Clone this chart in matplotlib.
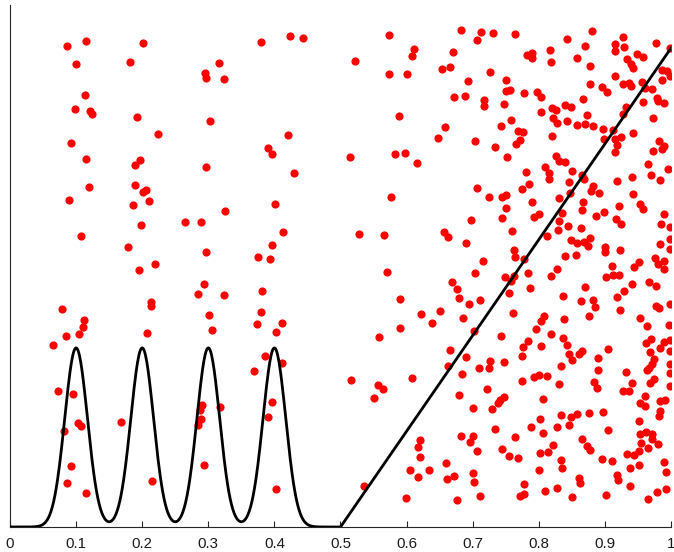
import numpy as np
import matplotlib
matplotlib.use("Agg")
import matplotlib.pyplot as plt

# sample points, left part (clustered around the four bumps)
x_left = [0.086, 0.115, 0.201, 0.100, 0.182, 0.380, 0.423, 0.443, 0.316, 0.295,
          0.296, 0.323, 0.113, 0.098, 0.121, 0.124, 0.192, 0.303, 0.224, 0.092,
          0.421, 0.390, 0.396, 0.115, 0.189, 0.197, 0.297, 0.429, 0.120, 0.189,
          0.206, 0.201, 0.089, 0.186, 0.211, 0.325, 0.401, 0.264, 0.289, 0.198,
          0.413, 0.107, 0.178, 0.296, 0.397, 0.375, 0.393, 0.219, 0.195, 0.293,
          0.284, 0.324, 0.381, 0.214, 0.214, 0.079, 0.112, 0.110, 0.084, 0.104,
          0.065, 0.208, 0.301, 0.305, 0.379, 0.374, 0.411, 0.402, 0.386, 0.411,
          0.073, 0.096, 0.082, 0.103, 0.107, 0.093, 0.086, 0.115, 0.168, 0.215,
          0.287, 0.290, 0.289, 0.284, 0.318, 0.294, 0.369, 0.396, 0.391, 0.402]
y_left = [1.005, 1.015, 1.010, 0.966, 0.970, 1.013, 1.025, 1.022, 0.968, 0.949,
          0.938, 0.936, 0.903, 0.872, 0.869, 0.862, 0.856, 0.848, 0.820, 0.801,
          0.818, 0.792, 0.779, 0.769, 0.755, 0.766, 0.752, 0.740, 0.711, 0.714,
          0.704, 0.700, 0.683, 0.672, 0.681, 0.660, 0.675, 0.636, 0.637, 0.630,
          0.616, 0.607, 0.585, 0.575, 0.589, 0.563, 0.560, 0.550, 0.536, 0.508,
          0.486, 0.485, 0.492, 0.470, 0.461, 0.455, 0.432, 0.418, 0.399, 0.402,
          0.380, 0.406, 0.443, 0.412, 0.449, 0.424, 0.427, 0.408, 0.357, 0.342,
          0.284, 0.278, 0.201, 0.217, 0.210, 0.127, 0.091, 0.072, 0.219, 0.097,
          0.244, 0.254, 0.225, 0.214, 0.250, 0.130, 0.325, 0.260, 0.230, 0.079]

# sample points, right part (density rising towards x = 1)
x_right = [0.573, 0.683, 0.712, 0.731, 0.706, 0.611, 0.608, 0.670, 0.522, 0.574,
           0.600, 0.653, 0.665, 0.726, 0.693, 0.750, 0.750, 0.756, 0.671, 0.688,
           0.717, 0.717, 0.748, 0.589, 0.658, 0.648, 0.743, 0.703, 0.733,
           0.764, 0.842, 0.881, 0.928, 0.915, 0.929, 0.916, 0.978, 0.998, 0.782,
           0.789, 0.790, 0.817, 0.819, 0.870, 0.858, 0.877, 0.949, 0.957, 0.934,
           0.940, 0.943, 0.987, 0.994, 0.998, 0.987, 0.915, 0.777, 0.797, 0.804,
           0.877, 0.896, 0.903, 0.927, 0.936, 0.940, 0.956, 0.960, 0.971, 0.979,
           0.980, 0.990, 0.958, 0.867, 0.840, 0.849, 0.820, 0.826, 0.803, 0.932,
           0.927, 0.873, 0.758, 0.822, 0.828, 0.842, 0.858, 0.870, 0.882, 0.897,
           0.912, 0.973, 0.768, 0.776, 0.772, 0.765, 0.820, 0.898, 0.924, 0.915,
           0.942, 0.918, 0.982, 0.990, 0.973, 0.986,
           0.515, 0.583, 0.598, 0.616, 0.752, 0.577, 0.707, 0.725, 0.744, 0.750,
           0.750, 0.698, 0.745, 0.528, 0.566, 0.657, 0.662, 0.690, 0.715, 0.704,
           0.570, 0.749,
           0.915, 0.826, 0.830, 0.840, 0.810, 0.815, 0.816, 0.781, 0.850, 0.865,
           0.868, 0.845, 0.785, 0.774, 0.847, 0.882, 0.879, 0.891, 0.918, 0.941,
           0.965, 0.995, 0.969, 0.984, 0.942, 0.830, 0.867, 0.865, 0.789, 0.835,
           0.800, 0.793, 0.886, 0.898, 0.921, 0.953, 0.958, 0.917, 0.925, 0.990,
           0.985, 0.998, 0.830, 0.829, 0.844, 0.864, 0.759, 0.812, 0.877, 0.869,
           0.858, 0.848, 0.875, 0.998, 0.983, 0.998, 0.900, 0.900, 0.923, 0.762,
           0.764, 0.777, 0.839, 0.856, 0.976, 0.989, 0.981, 0.989, 0.952, 0.944,
           0.910, 0.827, 0.784, 0.763, 0.901, 0.912, 0.922, 0.818,
           0.668, 0.677, 0.679, 0.694, 0.711, 0.590, 0.622, 0.651, 0.638, 0.686,
           0.590, 0.558, 0.702, 0.743, 0.665, 0.690, 0.663, 0.726, 0.724, 0.710,
           0.747, 0.684, 0.516, 0.557, 0.565, 0.608, 0.551, 0.680, 0.721, 0.747,
           0.741, 0.738,
           0.758, 0.755, 0.786, 0.836, 0.870, 0.864, 0.882, 0.885, 0.876, 0.941,
           0.929, 0.918, 0.923, 0.967, 0.978, 0.978, 0.982, 0.998, 0.761, 0.953,
           0.963, 0.997, 0.808, 0.804, 0.796, 0.838, 0.818, 0.836, 0.842, 0.783,
           0.776, 0.804, 0.774, 0.845, 0.850, 0.861, 0.866, 0.904, 0.890, 0.969,
           0.962, 0.990, 0.998, 0.984, 0.968, 0.974, 0.971, 0.967, 0.963, 0.998,
           0.998, 0.998, 0.834, 0.890, 0.932, 0.792, 0.800, 0.813, 0.775, 0.831,
           0.884, 0.888, 0.974, 0.968, 0.941, 0.928, 0.936, 0.998, 0.961, 0.806,
           0.984, 0.991,
           0.701, 0.729, 0.734, 0.682, 0.700, 0.696, 0.707, 0.745, 0.621, 0.618,
           0.620, 0.660, 0.605, 0.634, 0.617, 0.661, 0.672, 0.701, 0.702, 0.536,
           0.599, 0.676, 0.711,
           0.953, 0.960, 0.983, 0.982, 0.802, 0.833, 0.848, 0.845, 0.858, 0.876,
           0.897, 0.788, 0.806, 0.828, 0.905, 0.951, 0.953, 0.962, 0.971, 0.972,
           0.981, 0.965, 0.955, 0.764, 0.755, 0.769, 0.802, 0.814, 0.822, 0.865,
           0.873, 0.877, 0.833, 0.835, 0.801, 0.896, 0.910, 0.933, 0.944, 0.952,
           0.938, 0.951, 0.919, 0.920, 0.861, 0.863, 0.990, 0.992, 0.778, 0.777,
           0.772, 0.810, 0.827, 0.938, 0.993, 0.979, 0.850, 0.901, 0.965]
y_right = [1.027, 1.037, 1.033, 1.031, 1.017, 0.998, 0.983, 0.991, 0.974, 0.945,
           0.946, 0.956, 0.960, 0.951, 0.931, 0.934, 0.910, 0.912, 0.898, 0.901,
           0.892, 0.880, 0.883, 0.858, 0.835, 0.813, 0.837, 0.805, 0.793,
           1.029, 1.020, 1.035, 1.023, 1.009, 1.002, 0.993, 1.011, 1.000, 0.986,
           0.990, 0.979, 0.996, 0.972, 1.004, 0.979, 0.963, 0.988, 0.982, 0.977,
           0.966, 0.958, 0.954, 0.953, 0.942, 0.933, 0.942, 0.906, 0.908, 0.897,
           0.925, 0.919, 0.909, 0.924, 0.928, 0.920, 0.929, 0.916, 0.915, 0.895,
           0.889, 0.886, 0.888, 0.894, 0.882, 0.876, 0.874, 0.870, 0.867, 0.878,
           0.862, 0.860, 0.850, 0.855, 0.844, 0.847, 0.840, 0.842, 0.838, 0.832,
           0.830, 0.853, 0.826, 0.825, 0.809, 0.799, 0.817, 0.810, 0.815, 0.810,
           0.823, 0.798, 0.805, 0.795, 0.785, 0.789,
           0.773, 0.778, 0.782, 0.761, 0.772, 0.689, 0.708, 0.690, 0.689, 0.693,
           0.666, 0.642, 0.645, 0.612, 0.610, 0.615, 0.605, 0.592, 0.555, 0.531,
           0.533, 0.522,
           0.784, 0.775, 0.764, 0.762, 0.752, 0.740, 0.726, 0.742, 0.744, 0.736,
           0.727, 0.720, 0.716, 0.706, 0.697, 0.713, 0.702, 0.698, 0.722, 0.730,
           0.759, 0.747, 0.735, 0.724, 0.695, 0.686, 0.679, 0.662, 0.678, 0.656,
           0.653, 0.648, 0.650, 0.658, 0.670, 0.674, 0.665, 0.644, 0.632, 0.654,
           0.633, 0.626, 0.640, 0.620, 0.628, 0.624, 0.619, 0.608, 0.603, 0.595,
           0.594, 0.599, 0.586, 0.601, 0.590, 0.580, 0.584, 0.574, 0.579, 0.578,
           0.564, 0.559, 0.566, 0.569, 0.561, 0.555, 0.549, 0.538, 0.553, 0.542,
           0.544, 0.539, 0.530, 0.524, 0.522, 0.526, 0.526, 0.524,
           0.512, 0.498, 0.478, 0.466, 0.474, 0.477, 0.445, 0.451, 0.425, 0.437,
           0.416, 0.396, 0.410, 0.398, 0.370, 0.355, 0.337, 0.347, 0.333, 0.331,
           0.345, 0.319, 0.307, 0.296, 0.289, 0.311, 0.270, 0.276, 0.288, 0.272,
           0.265, 0.258,
           0.514, 0.489, 0.500, 0.483, 0.502, 0.471, 0.473, 0.459, 0.441, 0.507,
           0.493, 0.481, 0.453, 0.511, 0.504, 0.462, 0.457, 0.465, 0.447, 0.436,
           0.419, 0.422, 0.440, 0.431, 0.413, 0.434, 0.403, 0.395, 0.381, 0.388,
           0.376, 0.378, 0.358, 0.361, 0.349, 0.362, 0.367, 0.372, 0.353, 0.393,
           0.384, 0.387, 0.390, 0.374, 0.365, 0.351, 0.340, 0.333, 0.328, 0.368,
           0.341, 0.321, 0.336, 0.327, 0.324, 0.314, 0.317, 0.315, 0.305, 0.298,
           0.303, 0.291, 0.308, 0.301, 0.301, 0.283, 0.284, 0.294, 0.274, 0.267,
           0.263, 0.265,
           0.248, 0.246, 0.205, 0.190, 0.191, 0.178, 0.159, 0.163, 0.182, 0.167,
           0.146, 0.133, 0.119, 0.120, 0.104, 0.101, 0.106, 0.112, 0.095, 0.085,
           0.060, 0.056, 0.065,
           0.258, 0.253, 0.243, 0.232, 0.226, 0.234, 0.229, 0.214, 0.236, 0.238,
           0.240, 0.208, 0.197, 0.209, 0.203, 0.222, 0.195, 0.199, 0.194, 0.184,
           0.174, 0.166, 0.176, 0.187, 0.149, 0.144, 0.154, 0.156, 0.172, 0.184,
           0.170, 0.161, 0.140, 0.123, 0.118, 0.142, 0.138, 0.152, 0.150, 0.159,
           0.124, 0.129, 0.109, 0.098, 0.102, 0.092, 0.135, 0.115, 0.090, 0.069,
           0.064, 0.076, 0.081, 0.086, 0.079, 0.073, 0.062, 0.067, 0.058]

# target curve: four gaussian bumps below 0.5, then a ramp
bump_centers = [0.1, 0.2, 0.3, 0.4]
bump_height = 0.374
bump_sigma = 0.0172
ramp_start = 0.5
ramp_slope = 2.0

x_pts = np.array(x_left + x_right)
y_pts = np.array(y_left + y_right)

xs = np.linspace(0, 1, 1001)
curve = np.zeros_like(xs)
for c in bump_centers:
    curve += bump_height * np.exp(-(xs - c) ** 2 / (2 * bump_sigma ** 2))
on_ramp = xs >= ramp_start
curve[on_ramp] = ramp_slope * (xs[on_ramp] - ramp_start)

fig = plt.figure(figsize=(6.74, 5.52), dpi=100)
ax = fig.add_axes([10 / 674, 25 / 552, 661 / 674, 522 / 552])
ax.plot(x_pts, y_pts, 'o', color='#ff0000', markersize=5.9, markeredgewidth=0, zorder=2)
ax.plot(xs, curve, color='black', linewidth=2.0, zorder=3)

ax.set_xlim(0, 1)
ax.set_ylim(0, 1.09)
ax.set_xticks(np.arange(0, 1.01, 0.1))
ax.set_xticklabels(['0', '0.1', '0.2', '0.3', '0.4', '0.5', '0.6', '0.7', '0.8', '0.9', '1'])
ax.set_yticks([])
ax.tick_params(axis='x', direction='in', length=4.5, width=0.8, color='#262626',
               labelsize=10.8, labelcolor='#1a1a1a', pad=7.5)
for lab in ax.get_xticklabels():
    lab.set_fontfamily(['Liberation Sans', 'DejaVu Sans'])
ax.spines['top'].set_visible(False)
ax.spines['right'].set_visible(False)
ax.spines['left'].set_color('#262626')
ax.spines['bottom'].set_color('#262626')
ax.spines['left'].set_linewidth(0.8)
ax.spines['bottom'].set_linewidth(0.8)

fig.savefig('out.png', dpi=100)
